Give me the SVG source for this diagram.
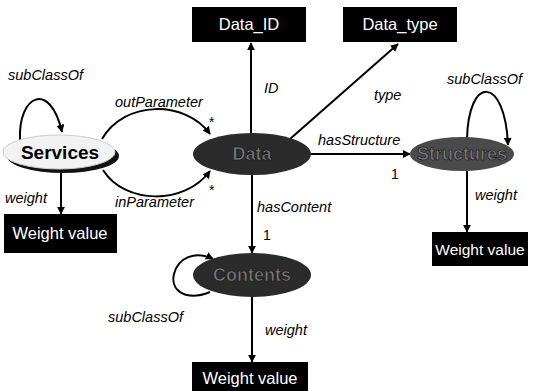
<svg xmlns="http://www.w3.org/2000/svg" width="534" height="391" viewBox="0 0 534 391">
<style>
.box{fill:#000}
.bt{font-family:"Liberation Sans",Arial,sans-serif;font-size:16.5px;fill:#fff;text-anchor:middle}
.lbl{font-family:"Liberation Sans",Arial,sans-serif;font-size:14.5px;font-style:italic;fill:#000}
.num{font-family:"Liberation Sans",Arial,sans-serif;font-size:14px;fill:#000}
.et{font-family:"Liberation Sans",Arial,sans-serif;font-size:18px;font-weight:bold;text-anchor:middle}
.dark{fill:#2b2b2b}
.dt{fill:#7a7a7a;stroke:#111;stroke-width:0.6}
.ln{fill:none;stroke:#000;stroke-width:2}
</style>
<defs>
<marker id="ah" viewBox="0 0 10 10" refX="9" refY="5" markerWidth="8" markerHeight="8" markerUnits="userSpaceOnUse" orient="auto">
<path d="M0,0 L10,5 L0,10 z" fill="#000"/>
</marker>
</defs>
<g id="connectors">
<path class="ln" d="M20,140 C18,95 50,80 62,132" marker-end="url(#ah)"/>
<path class="ln" d="M102,139 C125,100 185,100 210,134" marker-end="url(#ah)"/>
<path class="ln" d="M103,170 C125,205 185,205 210,171" marker-end="url(#ah)"/>
<path class="ln" d="M61,171 L61,214" marker-end="url(#ah)"/>
<path class="ln" d="M251,133 L251,43" marker-end="url(#ah)"/>
<path class="ln" d="M290,139 L398,44" marker-end="url(#ah)"/>
<path class="ln" d="M311,154 L410,154" marker-end="url(#ah)"/>
<path class="ln" d="M467,140 C468,75 505,75 508,145" marker-end="url(#ah)"/>
<path class="ln" d="M467,171 L467,232" marker-end="url(#ah)"/>
<path class="ln" d="M252,175 L252,253" marker-end="url(#ah)"/>
<path class="ln" d="M252,297 L252,362" marker-end="url(#ah)"/>
<path class="ln" d="M210,292 C185,302 170,290 174,274 C178,258 195,250 213,259" marker-end="url(#ah)"/>
<text class="lbl" x="8" y="80">subClassOf</text>
<text class="lbl" x="115" y="107">outParameter</text>
<text class="lbl" x="115" y="207">inParameter</text>
<text class="num" x="209" y="127">*</text>
<text class="num" x="209" y="195">*</text>
<text class="lbl" x="5" y="203">weight</text>
<text class="lbl" x="264" y="93">ID</text>
<text class="lbl" x="374" y="100">type</text>
<text class="lbl" x="318" y="145">hasStructure</text>
<text class="num" x="391" y="179">1</text>
<text class="lbl" x="447" y="84">subClassOf</text>
<text class="lbl" x="475" y="200">weight</text>
<text class="lbl" x="257" y="212">hasContent</text>
<text class="num" x="263" y="240">1</text>
<text class="lbl" x="108" y="322">subClassOf</text>
<text class="lbl" x="265" y="335">weight</text>
</g>
<g id="services">
<ellipse cx="63" cy="156" rx="56" ry="17" fill="#111"/>
<ellipse cx="59" cy="152" rx="56" ry="17" fill="#f2f2f2" stroke="#ccc" stroke-width="1"/>
<text class="et" x="60" y="159" style="font-size:19px;fill:#000">Services</text>
</g>
<g id="data">
<ellipse class="dark" cx="252" cy="154" rx="59" ry="21"/>
<text class="et dt" x="252" y="160">Data</text>
</g>
<g id="structures">
<ellipse cx="462" cy="154" rx="52" ry="17" fill="#4a4a4a"/>
<text class="et dt" x="462" y="160">Structures</text>
</g>
<g id="contents">
<ellipse class="dark" cx="252" cy="275" rx="59" ry="22"/>
<text class="et dt" x="252" y="281">Contents</text>
</g>
<g id="data_id">
<rect class="box" x="192" y="7" width="114" height="35"/>
<text class="bt" x="249" y="30">Data_ID</text>
</g>
<g id="data_type">
<rect class="box" x="343" y="7" width="114" height="35"/>
<text class="bt" x="400" y="30">Data_type</text>
</g>
<g id="weight_services">
<rect class="box" x="4" y="214" width="113" height="39"/>
<text class="bt" x="60" y="239">Weight value</text>
</g>
<g id="weight_structures">
<rect class="box" x="432" y="232" width="96" height="34"/>
<text class="bt" x="480" y="255" style="font-size:15.5px">Weight value</text>
</g>
<g id="weight_contents">
<rect class="box" x="192" y="362" width="116" height="29"/>
<text class="bt" x="250" y="384">Weight value</text>
</g>
</svg>
